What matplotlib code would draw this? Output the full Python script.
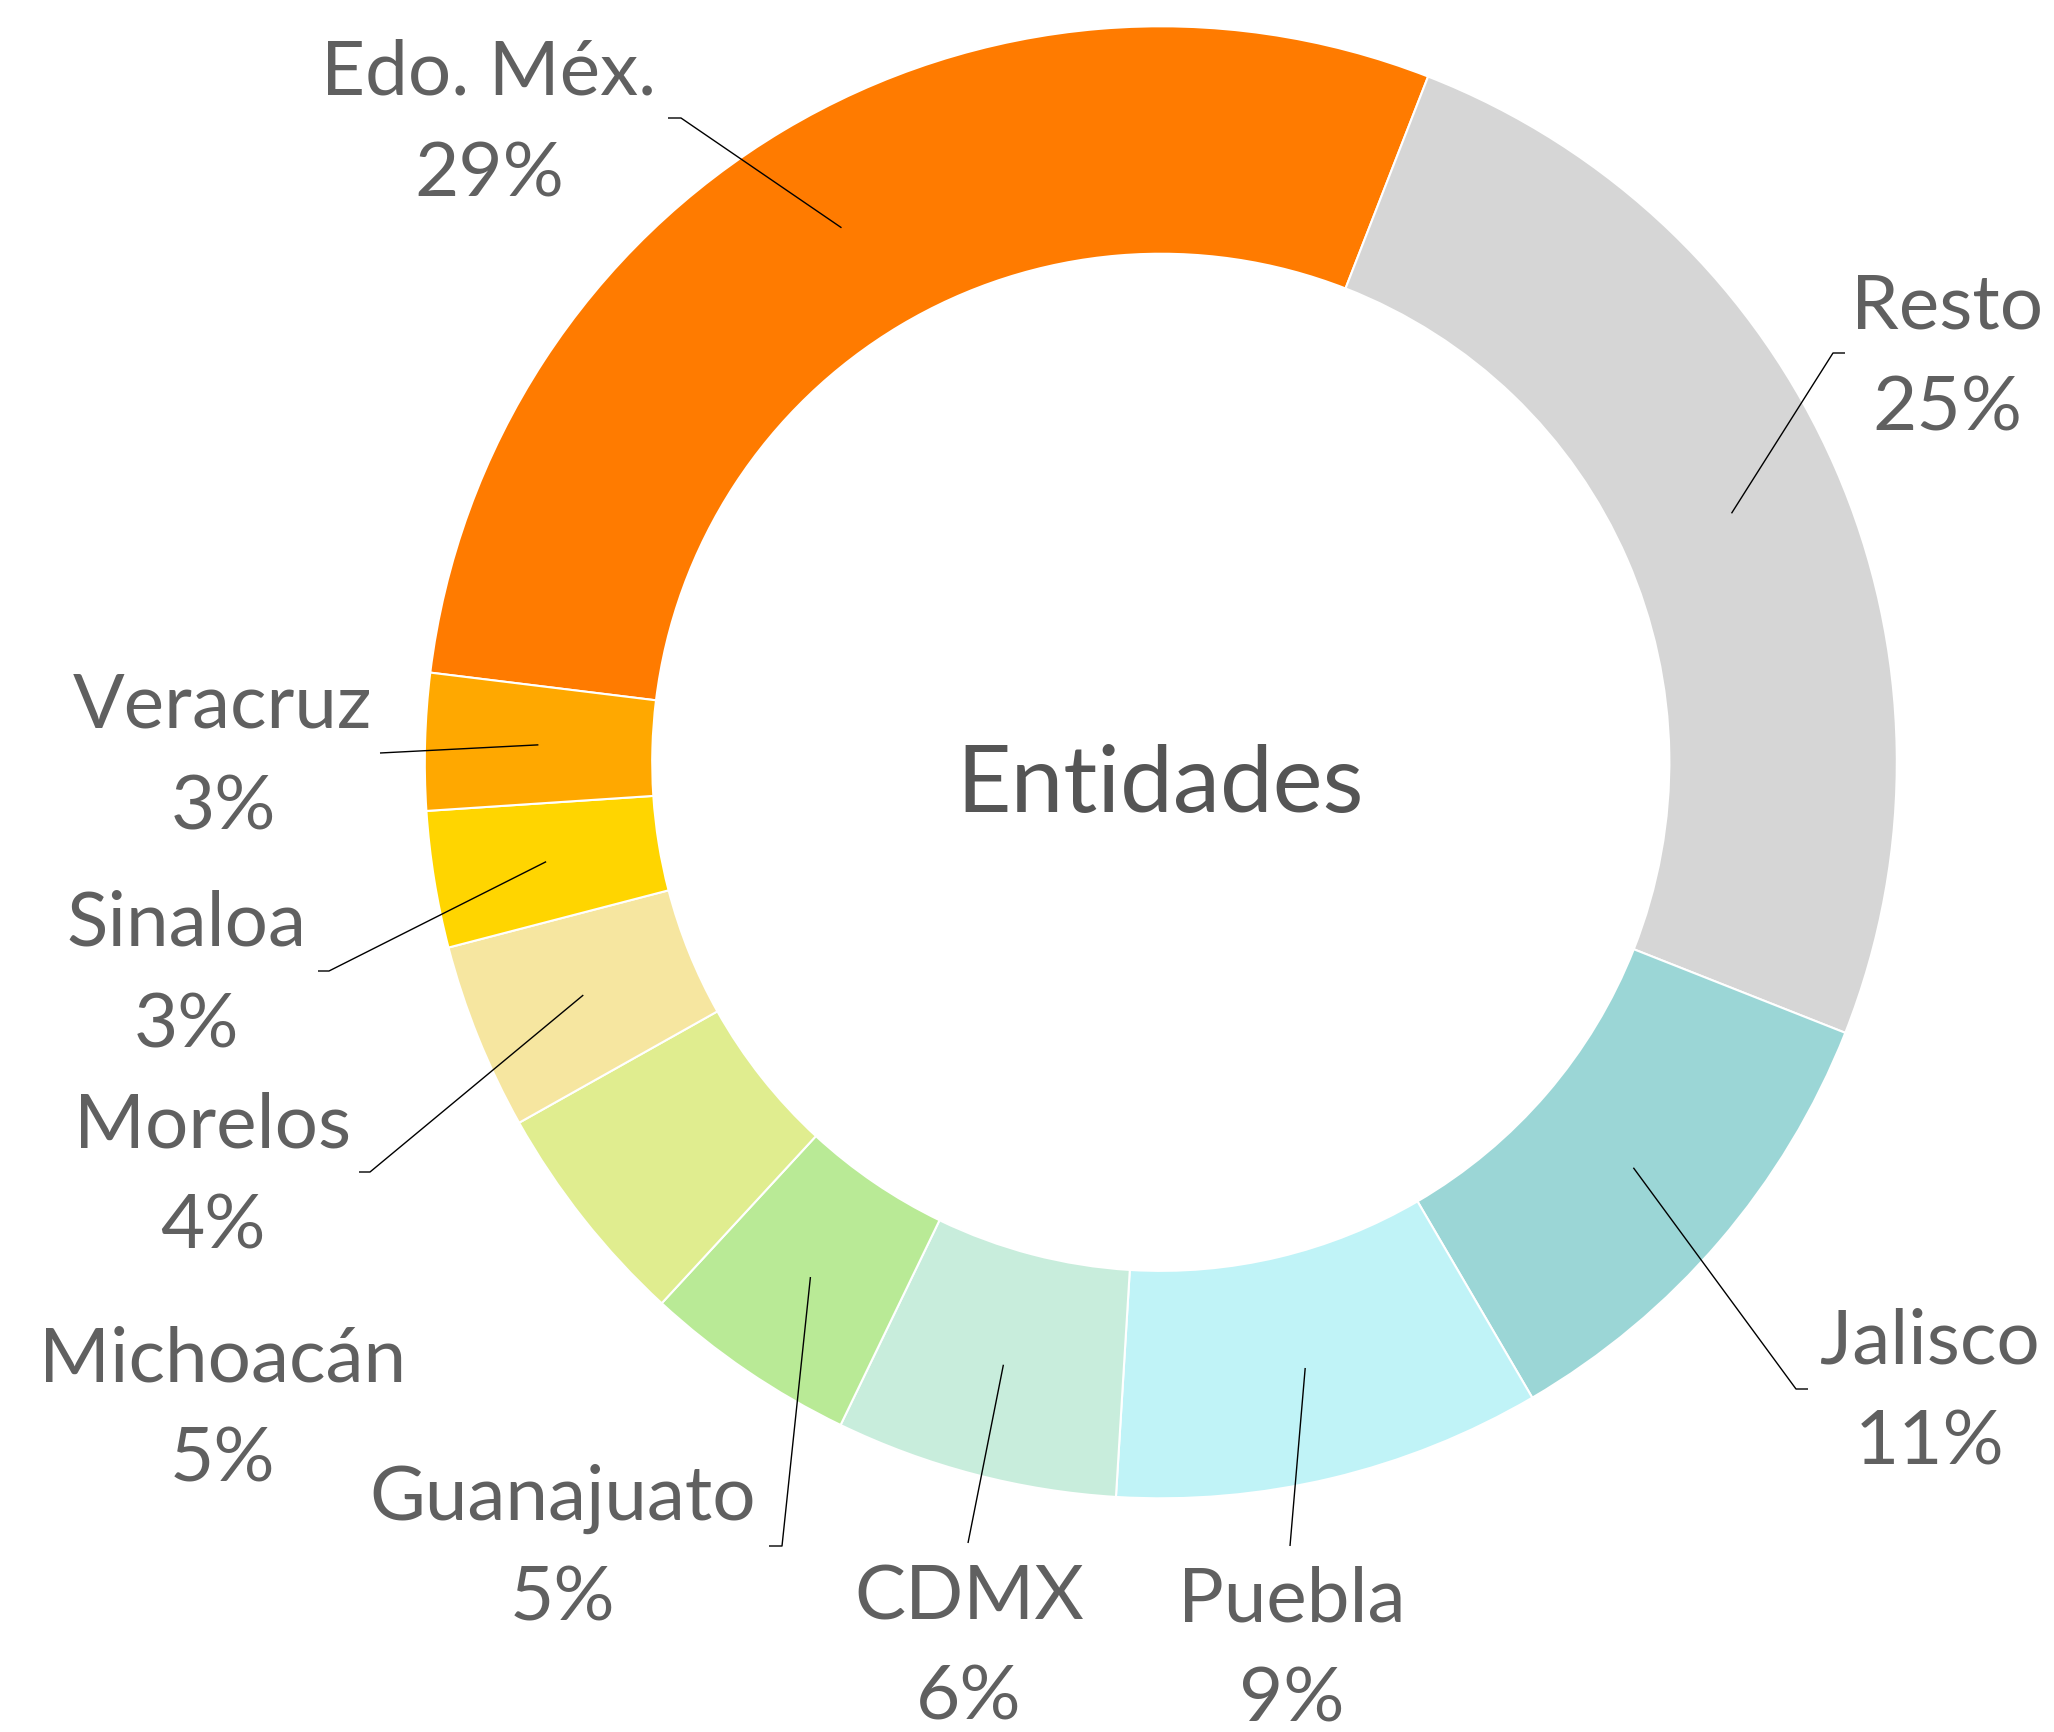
import matplotlib
matplotlib.use('Agg')
import matplotlib.pyplot as plt
import numpy as np

plt.rcParams['font.family'] = ['Lato', 'DejaVu Sans']

# datos
entidades = ['Edo. Méx.', 'Resto', 'Jalisco', 'Puebla', 'CDMX',
             'Guanajuato', 'Michoacán', 'Morelos', 'Sinaloa', 'Veracruz']
porcentajes = [29.0, 25.1, 10.6, 9.4, 6.2, 4.7, 5.0, 4.1, 3.0, 3.0]
colores = ['#FF7B00', '#D6D6D6', '#9BD6D6', '#C0F3F7', '#C8EDDC',
           '#B9EA96', '#E0ED8F', '#F6E6A0', '#FFD500', '#FFA800']

# geometria de la imagen (px)
W, H = 2054, 1733
CX, CY, R = 1160.8, 763.3, 736.0


def px(x, y):
    return (x - CX) / R, (CY - y) / R


# etiquetas: centro x, base nombre, base %, codo, final de la linea (px)
etiquetas = {
    'Edo. Méx.':  (489, 94, 196, (681, 119), (668, 119)),
    'Resto':      (1947, 328, 430, (1833, 354), (1845, 354)),
    'Jalisco':    (1930, 1364, 1465, (1796, 1390), (1808, 1390)),
    'Puebla':     (1292, 1622, 1722, (1290, 1547), None),
    'CDMX':       (969, 1620, 1720, (968, 1544), None),
    'Guanajuato': (563, 1520, 1621, (782, 1547), (769, 1547)),
    'Michoacán':  (223, 1382, 1482, None, None),
    'Morelos':    (213, 1148, 1249, (370, 1173), (359, 1173)),
    'Sinaloa':    (186, 946, 1048, (329, 972), (318, 972)),
    'Veracruz':   (223, 727, 829, (380, 754), None),
}

fig = plt.figure(figsize=(W / 100, H / 100), dpi=100)
ax = fig.add_axes([0, 0, 1, 1])

wedges, _ = ax.pie(porcentajes, colors=colores, startangle=173, counterclock=False,
                   radius=1.0, wedgeprops=dict(width=0.309, edgecolor='white', linewidth=1.5))

ax.set_xlim(-CX / R, (W - CX) / R)
ax.set_ylim(-(H - CY) / R, CY / R)
ax.axis('off')

gris = '#606060'
for w, nombre, pct in zip(wedges, entidades, porcentajes):
    x0, b1, b2, codo, fin = etiquetas[nombre]
    tx, ty1 = px(x0, b1)
    _, ty2 = px(x0, b2)
    ax.text(tx, ty1, nombre, ha='center', va='baseline', fontsize=55, color=gris)
    ax.text(tx, ty2, f'{round(pct)}%', ha='center', va='baseline', fontsize=55, color=gris)
    if codo is None:
        continue
    ang = np.deg2rad((w.theta1 + w.theta2) / 2)
    xs = [0.846 * np.cos(ang), px(*codo)[0]]
    ys = [0.846 * np.sin(ang), px(*codo)[1]]
    if fin is not None:
        xs.append(px(*fin)[0])
        ys.append(px(*fin)[1])
    ax.plot(xs, ys, color='black', lw=1.0, solid_capstyle='butt')

ax.text(*px(1160, 812), 'Entidades', ha='center', va='baseline', fontsize=68, color='#555555')

fig.savefig('out.png', dpi=100, facecolor='white')
